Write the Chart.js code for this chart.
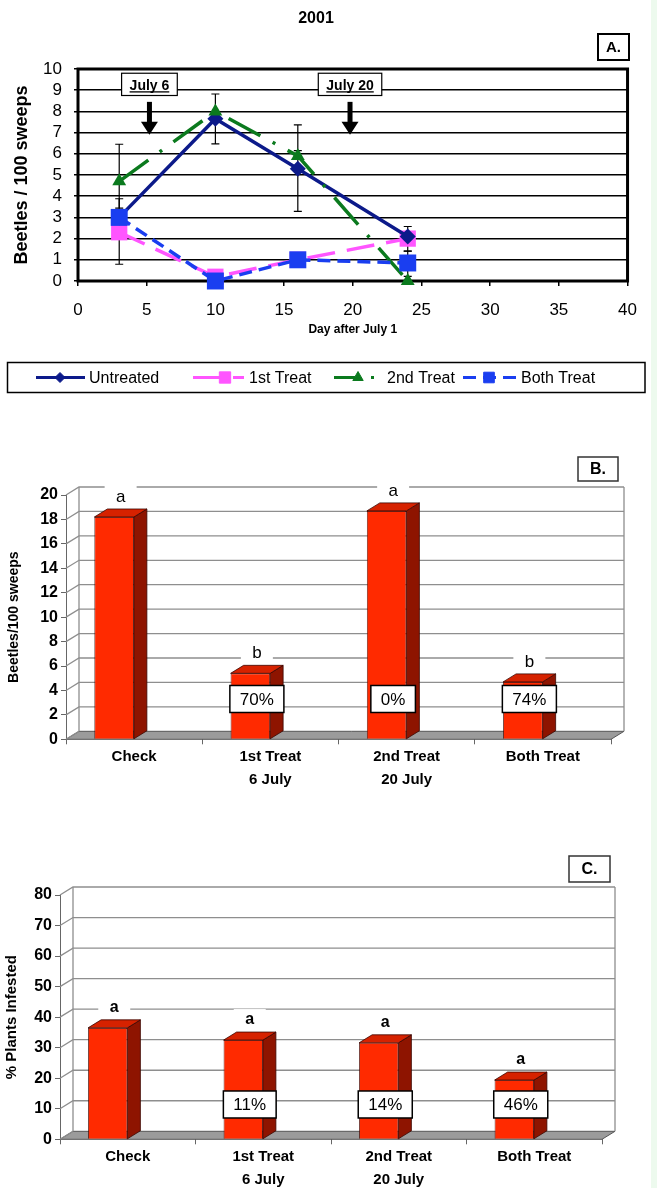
<!DOCTYPE html>
<html>
<head>
<meta charset="utf-8">
<title>2001 beetle sweeps</title>
<script src="https://cdn.jsdelivr.net/npm/chart.js@4.4.1/dist/chart.umd.min.js"></script>
<style>
  html, body { margin: 0; padding: 0; background: #fff; }
  body { position: relative; width: 657px; height: 1188px; overflow: hidden; }
  .panel { position: absolute; left: 0; }
  #strip { position: absolute; left: 651px; top: 0; width: 6px; height: 1188px; background: #edfaee; }
</style>
</head>
<body>
<canvas id="cA" class="panel" style="top:0" width="651" height="400"></canvas>
<canvas id="cB" class="panel" style="top:440px" width="651" height="360"></canvas>
<canvas id="cC" class="panel" style="top:830px" width="651" height="358"></canvas>
<div id="strip"></div>
<script>
// ---- panel A: sweeps through the season ----
const days = [3, 10, 16, 24];
const untreated = [3.0, 7.65, 5.3, 2.1];
const firstTreat = [2.3, 0.2, 1.0, 2.0];
const secondTreat = [4.7, 8.0, 5.9, 0.0];
const bothTreat = [3.0, 0.0, 1.0, 0.85];
// error bar ranges [low, high], null where none is drawn
const untreatedBars = [null, [6.47, 8.82], [3.28, 7.36], null];
const firstBars = [[0.79, 3.88], null, null, [1.41, 2.57]];
const secondBars = [[3.44, 6.45], null, [5.9, 6.15], null];
const bothBars = [null, null, null, [0.22, 1.41]];
const sprayDays = [5.2, 19.8];
const sprayLabels = ['July 6', 'July 20'];

// ---- panels B and C: season totals ----
const treatments = [['Check'], ['1st Treat', '6 July'], ['2nd Treat', '20 July'], ['Both Treat']];
const beetles = [18.2, 5.4, 18.7, 4.7];
const beetleGroups = ['a', 'b', 'a', 'b'];
const beetleReduction = [null, '70%', '0%', '74%'];
const infested = [36.5, 32.5, 31.6, 19.4];
const infestedGroups = ['a', 'a', 'a', 'a'];
const infestedReduction = [null, '11%', '14%', '46%'];

const FONT = "'Liberation Sans', Arial, Helvetica, sans-serif";
Chart.defaults.font.family = FONT;
Chart.defaults.color = '#000';
Chart.defaults.animation = false;

const pts = vals => days.map((d, i) => ({ x: d, y: vals[i] }));

// legend layout: sample line, marker, text start (px)
const legendSlots = [
  { x0: 36, x1: 85, mark: 60, text: 89 },
  { x0: 193, x1: 244, mark: 225, text: 249 },
  { x0: 334, x1: 375, mark: 358, text: 387, dash: [21, 16, 3, 100] },
  { x0: 463, x1: 517, mark: 489, text: 521 },
];

const panelA = {
  id: 'panelA',
  beforeDatasetsDraw(chart) {
    const { ctx, chartArea: a, scales: { x, y } } = chart;
    ctx.save();
    ctx.strokeStyle = '#000';
    ctx.lineWidth = 3;
    ctx.strokeRect(a.left, a.top, a.width, a.height);
    ctx.lineWidth = 1.2;
    chart.data.datasets.forEach(ds => {
      (ds.errorBars || []).forEach((r, i) => {
        if (!r) return;
        const px = x.getPixelForValue(ds.data[i].x);
        const lo = y.getPixelForValue(r[0]);
        const hi = y.getPixelForValue(r[1]);
        ctx.beginPath();
        ctx.moveTo(px, lo); ctx.lineTo(px, hi);
        ctx.moveTo(px - 4, lo); ctx.lineTo(px + 4, lo);
        ctx.moveTo(px - 4, hi); ctx.lineTo(px + 4, hi);
        ctx.stroke();
      });
    });
    ctx.restore();
  },
  afterDraw(chart, args, o) {
    const { ctx, scales: { x, y } } = chart;
    ctx.save();
    // panel tag
    ctx.strokeStyle = '#000';
    ctx.lineWidth = 2;
    ctx.strokeRect(598, 34, 31, 26);
    ctx.fillStyle = '#000';
    ctx.font = 'bold 15px ' + FONT;
    ctx.textAlign = 'center';
    ctx.textBaseline = 'middle';
    ctx.fillText('A.', 613.5, 47.5);

    // spray dates
    sprayDays.forEach((d, i) => {
      const px = x.getPixelForValue(d);
      ctx.font = 'bold 14px ' + FONT;
      const tw = ctx.measureText(sprayLabels[i]).width;
      const top = y.getPixelForValue(o.boxTop);
      const bot = y.getPixelForValue(o.boxBottom);
      ctx.fillStyle = '#fff';
      ctx.fillRect(px - tw / 2 - 8, top, tw + 16, bot - top);
      ctx.lineWidth = 1.2;
      ctx.strokeRect(px - tw / 2 - 8, top, tw + 16, bot - top);
      ctx.fillStyle = '#000';
      ctx.textBaseline = 'alphabetic';
      ctx.fillText(sprayLabels[i], px, top + 16.5);
      ctx.fillRect(px - tw / 2, top + 18, tw, 1.3);
      const a0 = y.getPixelForValue(o.arrowTop);
      const a1 = y.getPixelForValue(o.arrowTip);
      ctx.fillRect(px - 2.5, a0, 5, a1 - a0 - 12);
      ctx.beginPath();
      ctx.moveTo(px - 8.5, a1 - 13);
      ctx.lineTo(px + 8.5, a1 - 13);
      ctx.lineTo(px, a1);
      ctx.closePath();
      ctx.fill();
    });

    // legend
    ctx.lineWidth = 1.5;
    ctx.strokeRect(7.5, 362.5, 637.5, 30);
    const ly = 377.5;
    chart.data.datasets.forEach((ds, i) => {
      const s = legendSlots[i];
      ctx.save();
      ctx.strokeStyle = ds.borderColor;
      ctx.lineWidth = 3;
      ctx.setLineDash(s.dash || ds.borderDash || []);
      ctx.beginPath();
      ctx.moveTo(s.x0, ly); ctx.lineTo(s.x1, ly);
      ctx.stroke();
      ctx.restore();
      ctx.fillStyle = ds.backgroundColor;
      ctx.strokeStyle = ds.backgroundColor;
      ctx.lineWidth = 1;
      Chart.helpers.drawPoint(ctx, { pointStyle: ds.pointStyle, radius: ds.legendRadius, borderWidth: 1, rotation: 0 }, s.mark, ly);
      ctx.fillStyle = '#000';
      ctx.font = '16px ' + FONT;
      ctx.textAlign = 'left';
      ctx.textBaseline = 'middle';
      ctx.fillText(ds.label, s.text, ly + 1);
    });
    ctx.restore();
  }
};

new Chart(document.getElementById('cA'), {
  type: 'line',
  data: {
    datasets: [
      { label: 'Untreated', data: pts(untreated), errorBars: untreatedBars, borderColor: '#0c1a8a', backgroundColor: '#0c1a8a',
        borderDash: [], pointStyle: 'rectRot', pointRadius: 8, legendRadius: 5, order: 2 },
      { label: '1st Treat', data: pts(firstTreat), errorBars: firstBars, borderColor: '#ff55ff', backgroundColor: '#ff55ff',
        borderDash: [28, 12], pointStyle: 'rect', pointRadius: 11.5, legendRadius: 8, order: 3 },
      { label: '2nd Treat', data: pts(secondTreat), errorBars: secondBars, borderColor: '#0b7a1e', backgroundColor: '#0b7a1e',
        borderDash: [36, 14, 3, 14], pointStyle: 'triangle', pointRadius: 8, legendRadius: 6, order: 1 },
      { label: 'Both Treat', data: pts(bothTreat), errorBars: bothBars, borderColor: '#1a3ef0', backgroundColor: '#1a3ef0',
        borderDash: [13, 7], pointStyle: 'rect', pointRadius: 12, legendRadius: 7.5, order: 0 },
    ]
  },
  options: {
    responsive: false,
    clip: false,
    layout: { padding: { left: 0, right: 19, top: 0, bottom: 59 } },
    elements: {
      line: { borderWidth: 3.5, tension: 0 },
      point: { borderWidth: 0, hoverRadius: 0 }
    },
    plugins: {
      legend: { display: false },
      tooltip: { enabled: false },
      title: { display: true, text: '2001', font: { size: 16, weight: 'bold' }, padding: { top: 9, bottom: 40.8 } },
      panelA: { boxTop: 9.8, boxBottom: 8.75, arrowTop: 8.45, arrowTip: 6.9 }
    },
    scales: {
      x: {
        type: 'linear', min: 0, max: 40,
        ticks: { stepSize: 5, autoSkip: false, font: { size: 17 }, padding: 14 },
        grid: { drawOnChartArea: false, tickLength: 5, color: '#000', lineWidth: 1.5 },
        border: { display: false },
        title: { display: true, text: 'Day after July 1', font: { size: 12, weight: 'bold' }, padding: { top: 0, bottom: 4 } },
        afterFit: s => { s.height = 60; }
      },
      y: {
        min: 0, max: 10,
        ticks: { stepSize: 1, autoSkip: false, font: { size: 17 }, padding: 12 },
        grid: { color: '#000', lineWidth: 1.5, tickLength: 4 },
        border: { display: false },
        title: { display: true, text: 'Beetles / 100 sweeps', font: { size: 18, weight: 'bold' }, padding: { top: 11, bottom: 0 } },
        afterFit: s => { s.width = 78; }
      }
    }
  },
  plugins: [panelA]
});

// ---- 3D column look for panels B and C ----
const depth3d = {
  id: 'depth3d',
  afterDatasetsUpdate(chart, args, o) {
    chart.getDatasetMeta(0).data.forEach(b => { b.x -= o.shift; });
  },
  beforeDatasetsDraw(chart, args, o) {
    const { ctx, chartArea: a, scales: { y } } = chart;
    const { dx, dy } = o;
    const y0 = y.getPixelForValue(y.min);
    const yTop = y.getPixelForValue(y.max);
    ctx.save();
    ctx.beginPath();
    ctx.moveTo(a.left, y0);
    ctx.lineTo(a.left + dx, y0 - dy);
    ctx.lineTo(a.right + dx, y0 - dy);
    ctx.lineTo(a.right, y0);
    ctx.closePath();
    ctx.fillStyle = '#9b9b9b';
    ctx.fill();
    ctx.strokeStyle = '#555';
    ctx.lineWidth = 1;
    ctx.stroke();
    ctx.strokeStyle = '#8e8e8e';
    ctx.lineWidth = 1.3;
    y.ticks.forEach(t => {
      const py = y.getPixelForValue(t.value);
      ctx.beginPath();
      ctx.moveTo(a.left, py);
      ctx.lineTo(a.left + dx, py - dy);
      if (t.value !== y.min) ctx.lineTo(a.right + dx, py - dy);
      ctx.stroke();
    });
    ctx.beginPath();
    ctx.moveTo(a.left + dx, yTop - dy); ctx.lineTo(a.left + dx, y0 - dy);
    ctx.moveTo(a.right + dx, yTop - dy); ctx.lineTo(a.right + dx, y0 - dy);
    ctx.stroke();
    ctx.restore();
  },
  afterDatasetsDraw(chart, args, o) {
    const { ctx, scales: { y } } = chart;
    const { dx, dy } = o;
    const bars = chart.getDatasetMeta(0).data;
    ctx.save();
    ctx.strokeStyle = '#3a0600';
    ctx.lineWidth = 0.8;
    bars.forEach(b => {
      const l = b.x - b.width / 2, r = b.x + b.width / 2;
      ctx.beginPath();
      ctx.moveTo(r, b.y); ctx.lineTo(r + dx, b.y - dy); ctx.lineTo(r + dx, b.base - dy); ctx.lineTo(r, b.base);
      ctx.closePath();
      ctx.fillStyle = '#8e1400';
      ctx.fill(); ctx.stroke();
      ctx.beginPath();
      ctx.moveTo(l, b.y); ctx.lineTo(l + dx, b.y - dy); ctx.lineTo(r + dx, b.y - dy); ctx.lineTo(r, b.y);
      ctx.closePath();
      ctx.fillStyle = '#d62200';
      ctx.fill(); ctx.stroke();
    });
    ctx.textAlign = 'center';
    ctx.textBaseline = 'middle';
    // mean separation letters
    ctx.font = o.letterFont;
    bars.forEach((b, i) => {
      const cx = b.x + dx / 2, cy = b.y - dy - 13;
      ctx.fillStyle = '#fff';
      ctx.fillRect(cx - 16, cy - 10, 32, 20);
      ctx.fillStyle = '#000';
      ctx.fillText(o.letters[i], cx, cy + 1);
    });
    // percent reduction boxes
    ctx.font = '17px ' + FONT;
    const ry = y.getPixelForValue(o.reductionAt);
    o.reductions.forEach((txt, i) => {
      if (!txt) return;
      const cx = bars[i].x + dx / 2;
      const w = ctx.measureText(txt).width + 20;
      ctx.fillStyle = '#fff';
      ctx.fillRect(cx - w / 2, ry - 13.5, w, 27);
      ctx.strokeStyle = '#000';
      ctx.lineWidth = 1.5;
      ctx.strokeRect(cx - w / 2, ry - 13.5, w, 27);
      ctx.fillStyle = '#000';
      ctx.fillText(txt, cx, ry + 1);
    });
    // panel tag
    const t = o.tagBox;
    ctx.strokeStyle = '#333';
    ctx.lineWidth = 1.5;
    ctx.strokeRect(t[0], t[1], t[2], t[3]);
    ctx.font = 'bold 16px ' + FONT;
    ctx.fillStyle = '#000';
    ctx.fillText(o.tag, t[0] + t[2] / 2, t[1] + t[3] / 2 + 1);
    ctx.restore();
  }
};

function columnPanel(id, values, o) {
  return new Chart(document.getElementById(id), {
    type: 'bar',
    data: {
      labels: treatments,
      datasets: [{ data: values, backgroundColor: '#ff2a00', borderColor: '#3a0600', borderWidth: 0.8,
                   barPercentage: 0.29, categoryPercentage: 1 }]
    },
    options: {
      responsive: false,
      layout: { padding: { left: 0, right: o.right, top: o.top, bottom: o.bottom } },
      plugins: {
        legend: { display: false },
        tooltip: { enabled: false },
        depth3d: o.depth
      },
      scales: {
        x: {
          ticks: { font: { size: 15, weight: 'bold', lineHeight: 1.47 }, padding: 2, autoSkip: false, maxRotation: 0 },
          grid: { drawOnChartArea: false, tickLength: 5, color: '#666' },
          border: { display: false },
          afterFit: s => { s.height = o.axisH; }
        },
        y: {
          min: 0, max: o.max,
          ticks: { stepSize: o.step, autoSkip: false, font: { size: 16, weight: 'bold' }, padding: 3 },
          grid: { drawOnChartArea: false, tickLength: 5, color: '#666' },
          border: { color: '#666' },
          title: { display: true, text: o.yTitle, font: { size: o.titleSize, weight: 'bold' }, padding: { top: o.titlePad, bottom: 0 } },
          afterFit: s => { s.width = o.left; }
        }
      }
    },
    plugins: [depth3d]
  });
}

columnPanel('cB', beetles, {
  max: 20, step: 2, left: 66, right: 40, top: 55, bottom: 2.7, axisH: 58,
  yTitle: 'Beetles/100 sweeps', titleSize: 14, titlePad: 6,
  depth: { dx: 13, dy: 8, shift: 20, letters: beetleGroups, letterFont: '17px ' + FONT,
           reductions: beetleReduction, reductionAt: 3.3, tag: 'B.', tagBox: [578, 17, 40, 24] }
});

columnPanel('cC', infested, {
  max: 80, step: 10, left: 60, right: 49, top: 65, bottom: 0.7, axisH: 48,
  yTitle: '% Plants Infested', titleSize: 15, titlePad: 3,
  depth: { dx: 13, dy: 8, shift: 20, letters: infestedGroups, letterFont: 'bold 16px ' + FONT,
           reductions: infestedReduction, reductionAt: 11.4, tag: 'C.', tagBox: [569, 26, 41, 26] }
});
</script>
</body>
</html>
